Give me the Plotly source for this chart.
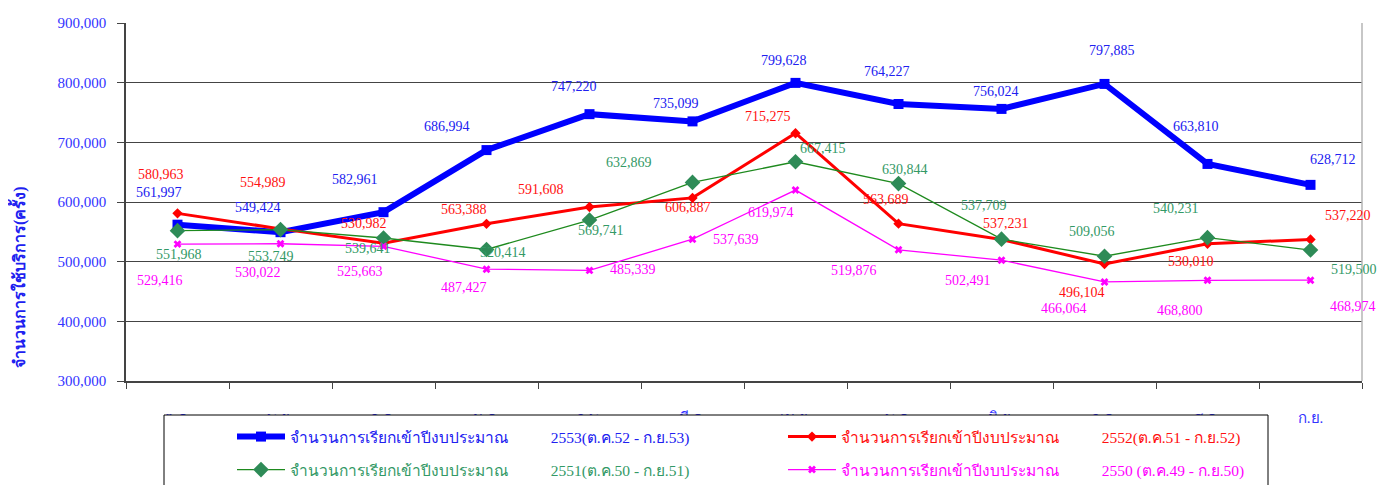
import plotly.graph_objects as go

months = ["ต.ค.", "พ.ย.", "ธ.ค.", "ม.ค.", "ก.พ.", "มี.ค.", "เม.ย.", "พ.ค.", "มิ.ย.", "ก.ค.", "ส.ค.", "ก.ย."]

calls_2553 = [561997, 549424, 582961, 686994, 747220, 735099, 799628, 764227, 756024, 797885, 663810, 628712]
calls_2552 = [580963, 554989, 530982, 563388, 591608, 606887, 715275, 563689, 537231, 496104, 530010, 537220]
calls_2551 = [551968, 553749, 539641, 520414, 569741, 632869, 667415, 630844, 537709, 509056, 540231, 519500]
calls_2550 = [529416, 530022, 525663, 487427, 485339, 537639, 619974, 519876, 502491, 466064, 468800, 468974]

name_prefix = "จำนวนการเรียกเข้าปีงบประมาณ"
period_2553 = "2553(ต.ค.52 - ก.ย.53)"
period_2552 = "2552(ต.ค.51 - ก.ย.52)"
period_2551 = "2551(ต.ค.50 - ก.ย.51)"
period_2550 = "2550 (ต.ค.49 - ก.ย.50)"

y_title = "จำนวนการใช้บริการ(ครั้ง)"

# ---- styling / layout constants (page pixel coords; the page body has an 8px margin) ----
OX, OY = 8, 8
W, H = 1387 - OX, 485 - OY
PL, PR, PT, PB = 126, 1362, 23, 381          # plot area in page pixels
L, R, T, B = PL - OX, (W + OX) - PR, PT - OY, (H + OY) - PB
PW, PH = PR - PL, PB - PT
SERIF = "Liberation Serif, Times New Roman, serif"

def px_x(px):
    return (px - PL) / PW

def px_y(py):
    return (PB - py) / PH

def cx(px):
    return (px - OX) / W

def cy(py):
    return 1 - (py - OY) / H

# label offsets (dx, dy) in pixels, dy positive = downward
off_2553 = [(-19, -32), (-23, -25), (-29, -33), (-40, -24), (-16, -28), (-17, -18),
            (-12, -22), (-12, -33), (-6, -17), (7, -33), (-12, -37), (22, -25)]
off_2552 = [(-17, -39), (-18, -46), (-20, -20), (-23, -14), (-49, -18), (-5, 10),
            (-28, -17), (-13, -24), (4, -16), (-23, 29), (-17, 18), (37, -24)]
off_2551 = [(1, 24), (-10, 27), (-16, 10), (16, 3), (11, 10), (-64, -20),
            (27, -13), (6, -14), (-18, -34), (-13, -25), (-32, -29), (43, 19)]
off_2550 = [(-18, 36), (-23, 29), (-24, 25), (-23, 18), (43, -1), (43, 0),
            (-25, 22), (-45, 21), (-34, 20), (-41, 27), (-28, 30), (42, 26)]

series = [
    dict(vals=calls_2553, period=period_2553, color="#0000FF", text="#2020F0", lw=6,
         marker=dict(symbol="square", size=10, color="#0000FF"), offs=off_2553,
         legend="legend", lpos=(232, 437)),
    dict(vals=calls_2552, period=period_2552, color="#FF0000", text="#FF1010", lw=3,
         marker=dict(symbol="diamond", size=8, color="#FF0000"), offs=off_2552,
         legend="legend2", lpos=(783, 437)),
    dict(vals=calls_2551, period=period_2551, color="#1E8A1E", text="#339966", lw=1.3,
         marker=dict(symbol="diamond", size=12, color="#2E8B57"), offs=off_2551,
         legend="legend3", lpos=(232, 470)),
    dict(vals=calls_2550, period=period_2550, color="#FF00FF", text="#FF00FF", lw=1.3,
         marker=dict(symbol="x", size=7, color="#FF00FF"), offs=off_2550,
         legend="legend4", lpos=(783, 470)),
]

fig = go.Figure()
annotations = []
legends = {}
gap = "&nbsp;" * 11
for s in series:
    label = f'<span style="color:{s["text"]}">{name_prefix}{gap}{s["period"]}</span>'
    fig.add_trace(go.Scatter(
        x=months, y=s["vals"], mode="lines+markers", name=label,
        line=dict(color=s["color"], width=s["lw"]),
        marker=s["marker"], legend=s["legend"], cliponaxis=False, showlegend=True,
    ))
    for m, v, (dx, dy) in zip(months, s["vals"], s["offs"]):
        annotations.append(dict(
            x=m, y=v, xref="x", yref="y", text=f"{v:,}", showarrow=False,
            xshift=dx, yshift=-dy, xanchor="center", yanchor="middle",
            font=dict(family=SERIF, size=14, color=s["text"]),
        ))
    lx, ly = s["lpos"]
    legends[s["legend"]] = dict(
        x=cx(lx), y=cy(ly), xref="container", yref="container",
        xanchor="left", yanchor="middle",
        bgcolor="rgba(0,0,0,0)", borderwidth=0, itemwidth=48,
        font=dict(family=SERIF, size=15.5, color=s["text"]),
    )

annotations.append(dict(
    x=px_x(18), y=px_y(277), xref="paper", yref="paper", text=f"<b>{y_title}</b>",
    textangle=-90, showarrow=False, xanchor="center", yanchor="middle",
    font=dict(family=SERIF, size=16, color="#2020F0"),
))

shapes = [
    # right plot border
    dict(type="line", xref="paper", yref="paper", x0=1, x1=1, y0=0, y1=1,
         line=dict(color="#B4B4B4", width=1.5), layer="above"),
    # legend box
    dict(type="rect", xref="paper", yref="paper", x0=px_x(164), x1=px_x(1268),
         y0=px_y(415), y1=px_y(495), line=dict(color="#000000", width=1),
         fillcolor="#FFFFFF", layer="above"),
]

fig.update_layout(
    width=W, height=H,
    margin=dict(l=L, r=R, t=T, b=B, autoexpand=False),
    paper_bgcolor="#FFFFFF", plot_bgcolor="#FFFFFF",
    showlegend=True,
    font=dict(family=SERIF, size=14, color="#2020F0"),
    annotations=annotations, shapes=shapes,
    **legends,
)
fig.update_xaxes(
    type="category", categoryorder="array", categoryarray=months, range=[-0.5, 11.5],
    showgrid=False, showline=True, linecolor="#444444", linewidth=1.5,
    ticks="outside", ticklen=6, tickcolor="#444444", tickwidth=1.3, tickson="boundaries",
    tickfont=dict(family=SERIF, size=15, color="#3333FF"), ticklabelstandoff=22,
    zeroline=False, automargin=False,
)
fig.update_yaxes(
    range=[300000, 900000], dtick=100000, tick0=300000, tickformat=",d",
    showgrid=True, gridcolor="#444444", gridwidth=1.3,
    showline=True, linecolor="#444444", linewidth=1.5,
    ticks="outside", ticklen=7, tickcolor="#444444", tickwidth=1.3,
    tickfont=dict(family=SERIF, size=15, color="#3333FF"), ticklabelstandoff=8,
    zeroline=False, automargin=False,
)

fig.write_html("out.html")
